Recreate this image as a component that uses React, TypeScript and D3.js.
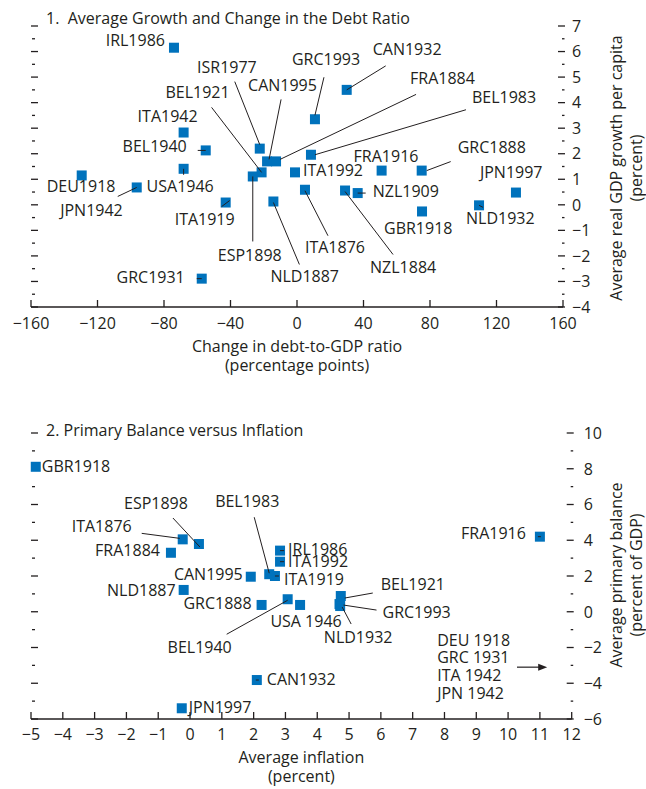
import React from "react"
import * as d3 from "d3"

// Panel 1: change in debt ratio (pp) vs average real GDP growth per capita (%)
const growthCases = [
  "IRL1986", "ISR1977", "GRC1993", "CAN1995", "FRA1884", "BEL1921", "ITA1942",
  "BEL1940", "USA1946", "DEU1918", "JPN1942", "ITA1919", "ESP1898", "GRC1931",
  "NLD1887", "ITA1876", "NZL1884", "NZL1909", "GBR1918", "NLD1932", "ITA1992",
  "FRA1916", "GRC1888", "JPN1997", "CAN1932", "BEL1983",
]
const debtChange = [
  -74, -22.4, 10.8, -18, -12.6, -21.3, -68.2, -54.9, -68.2, -129.5, -96.4, -42.9,
  -26.6, -57.3, -14.2, 4.8, 28.9, 36.5, 75.2, 109.5, -1.2, 50.9, 75, 131.7, 29.9, 8.4,
]
const growthRate = [
  6.15, 2.2, 3.35, 1.7, 1.7, 1.27, 2.83, 2.13, 1.41, 1.15, 0.68, 0.09, 1.11, -2.89,
  0.13, 0.59, 0.56, 0.46, -0.26, -0.02, 1.27, 1.34, 1.34, 0.48, 4.5, 1.96,
]

// Panel 2: average inflation (%) vs average primary balance (% of GDP)
const balanceCases = [
  "GBR1918", "ITA1876", "ESP1898", "FRA1884", "BEL1983", "IRL1986", "ITA1992",
  "ITA1919", "CAN1995", "NLD1887", "GRC1888", "BEL1940", "USA 1946", "BEL1921",
  "GRC1993", "NLD1932", "CAN1932", "JPN1997", "FRA1916",
]
const inflation = [
  -4.85, -0.23, 0.28, -0.6, 2.49, 2.83, 2.83, 2.67, 1.91, -0.2, 2.25, 3.07, 3.46,
  4.74, 4.7, 4.72, 2.1, -0.26, 11.0,
]
const primaryBalance = [
  8.11, 4.05, 3.79, 3.3, 2.1, 3.42, 2.8, 2.0, 1.96, 1.22, 0.38, 0.7, 0.38, 0.88,
  0.43, 0.32, -3.82, -5.4, 4.2,
]
// hyperinflation cases that fall off the chart
const offChartCases = ["DEU 1918", "GRC 1931", "ITA 1942", "JPN 1942"]

const debtTicks = d3.range(-160, 161, 40)
const growthTicks = d3.range(-4, 7.1, 1)
const inflationTicks = d3.range(-5, 12.1, 1)
const balanceTicks = d3.range(-6, 10.1, 2)

type Lab = { id: string; dx: number; dy: number; anchor?: string; line?: number[] }

// label placement, pixel offsets from the marker (leader: x1,y1,x2,y2)
const growthLabels: Lab[] = [
  { id: "IRL1986", dx: -9, dy: -2, anchor: "end" },
  { id: "ISR1977", dx: -3, dy: -76, anchor: "end", line: [-25, -67, 0, -4] },
  { id: "GRC1993", dx: -23, dy: -54, line: [9, -42, 0, -4] },
  { id: "CAN1995", dx: -19, dy: -70, line: [14, -62, 2, -2] },
  { id: "FRA1884", dx: 134, dy: -77, line: [140, -67, 4, -2] },
  { id: "BEL1921", dx: -32, dy: -74, anchor: "end", line: [-50, -65, 0, 0] },
  { id: "ITA1942", dx: -16, dy: -11, anchor: "middle" },
  { id: "BEL1940", dx: -19, dy: 2, anchor: "end", line: [-8, 0, 0, 0] },
  { id: "USA1946", dx: -37, dy: 23, line: [0, 0, 0, 6] },
  { id: "DEU1918", dx: -35, dy: 17 },
  { id: "JPN1942", dx: -14, dy: 29, anchor: "end", line: [-19, 9, 0, 0] },
  { id: "ITA1919", dx: 9, dy: 22, anchor: "end", line: [-4, 4, 4, -2] },
  { id: "ESP1898", dx: -3, dy: 85, anchor: "middle", line: [0, 65, 0, 0] },
  { id: "GRC1931", dx: -17, dy: 4, anchor: "end", line: [-5, 0, 0, 0] },
  { id: "NLD1887", dx: -3, dy: 81, line: [26, 63, 0, 1] },
  { id: "ITA1876", dx: 0, dy: 63, line: [23, 46, 0, 1] },
  { id: "NZL1884", dx: 25, dy: 82, line: [48, 64, 0, 1] },
  { id: "NZL1909", dx: 15, dy: 4, line: [0, 0, 8, 0] },
  { id: "GBR1918", dx: -38, dy: 23 },
  { id: "NLD1932", dx: -13, dy: 19, line: [0, 0, 4, 2] },
  { id: "ITA1992", dx: 8, dy: 4 },
  { id: "FRA1916", dx: -28, dy: -9 },
  { id: "GRC1888", dx: 36, dy: -18, line: [29, -9, 5, 0] },
  { id: "JPN1997", dx: -36, dy: -15 },
  { id: "CAN1932", dx: 26, dy: -35, line: [39, -24, 0, 0] },
  { id: "BEL1983", dx: 161, dy: -52, line: [155, -45, 4, 0] },
]

const balanceLabels: Lab[] = [
  { id: "GBR1918", dx: 6, dy: 5 },
  { id: "ITA1876", dx: -51, dy: -7, anchor: "end", line: [-41, -6, -3, -1] },
  { id: "ESP1898", dx: -43, dy: -35, anchor: "middle", line: [-26, -26, 1, 3] },
  { id: "FRA1884", dx: -11, dy: 3, anchor: "end" },
  { id: "BEL1983", dx: -22, dy: -67, anchor: "middle", line: [-15, -57, 0, -1] },
  { id: "IRL1986", dx: 8, dy: 4, line: [0, 0, 4, 0] },
  { id: "ITA1992", dx: 8, dy: 5, line: [0, 0, 4, 0] },
  { id: "ITA1919", dx: 9, dy: 9, line: [0, 0, 4, 0] },
  { id: "CAN1995", dx: -8, dy: 3, anchor: "end" },
  { id: "NLD1887", dx: -8, dy: 6, anchor: "end" },
  { id: "GRC1888", dx: -10, dy: 4, anchor: "end" },
  { id: "BEL1940", dx: -88, dy: 54, anchor: "middle", line: [-61, 35, 0, 1] },
  { id: "USA 1946", dx: 6, dy: 22, anchor: "middle" },
  { id: "BEL1921", dx: 40, dy: -6, line: [32, -3, 4, 2] },
  { id: "GRC1993", dx: 43, dy: 14, line: [37, 6, 4, 1] },
  { id: "NLD1932", dx: 18, dy: 37, anchor: "middle", line: [11, 18, 2, 1] },
  { id: "CAN1932", dx: 10, dy: 5, line: [-1, 0, 2, 0] },
  { id: "JPN1997", dx: 7, dy: 5 },
  { id: "FRA1916", dx: -14, dy: 2, anchor: "end", line: [-2, 0, 1, 0] },
]

const INK = "#231f20"
const BLUE = "#0072bc"
const FONT = "'Open Sans', 'Noto Sans', sans-serif"
const fmt = (v: number) => (v < 0 ? "\u2212" + Math.abs(v) : String(v))

type PanelProps = {
  ids: string[]
  xs: number[]
  ys: number[]
  labels: Lab[]
  x: d3.ScaleLinear<number, number>
  y: d3.ScaleLinear<number, number>
  xTicks: number[]
  yTicks: number[]
  yMinor: number[]
  yLabelGap: number
  title: string
  titleY: number
  xTitle: string[]
  xTitleY: number
  tickLabelY: number
  yTitle: string[]
  yTitleY: number
}

function Panel(p: PanelProps) {
  const [x0, x1] = p.x.range()
  const yBase = p.y.range()[0]
  const byId = new Map(p.ids.map((id, i) => [id, [p.x(p.xs[i]), p.y(p.ys[i])]]))
  return (
    <g>
      <text x={46} y={p.titleY} fontSize={16}>{p.title}</text>
      {/* x axis */}
      <line x1={x0} x2={x1} y1={yBase} y2={yBase} stroke={INK} strokeWidth={1.3} />
      {p.xTicks.map((t) => (
        <g key={t}>
          <line x1={p.x(t)} x2={p.x(t)} y1={yBase} y2={yBase - 7} stroke={INK} strokeWidth={1.3} />
          <text x={p.x(t)} y={yBase + p.tickLabelY} textAnchor="middle" fontSize={16}>{fmt(t)}</text>
        </g>
      ))}
      {/* y ticks: left side without labels, right side with labels */}
      {p.yTicks.map((t) => (
        <g key={"m" + t}>
          <line x1={x0} x2={x0 + 7} y1={p.y(t)} y2={p.y(t)} stroke={INK} strokeWidth={1.3} />
          <line x1={x1 - 5} x2={x1 + 2} y1={p.y(t)} y2={p.y(t)} stroke={INK} strokeWidth={1.3} />
          <text x={x1 + p.yLabelGap} y={p.y(t)} dy="0.36em" fontSize={16}>{fmt(t)}</text>
        </g>
      ))}
      {p.yMinor.map((t) => (
        <g key={"n" + t}>
          <line x1={x0 + 1} x2={x0 + 4} y1={p.y(t)} y2={p.y(t)} stroke={INK} strokeWidth={1.3} />
          <line x1={x1 - 1} x2={x1 + 1.5} y1={p.y(t)} y2={p.y(t)} stroke={INK} strokeWidth={1.3} />
        </g>
      ))}
      {p.xTitle.map((s, i) => (
        <text key={s} x={p.x(0) + (x1 - x0) * 0} y={p.xTitleY + i * 18.5} textAnchor="middle" fontSize={16}
          transform={`translate(${(x0 + x1) / 2 - p.x(0)},0)`}>{s}</text>
      ))}
      {p.yTitle.map((s, i) => (
        <text key={s} transform={`translate(${622 + i * 20},${p.yTitleY}) rotate(-90)`} textAnchor="middle" fontSize={16}>{s}</text>
      ))}
      {/* markers */}
      {p.ids.map((id, i) => (
        <rect key={id} x={p.x(p.xs[i]) - 5} y={p.y(p.ys[i]) - 5} width={10} height={10} fill={BLUE} />
      ))}
      {p.labels.map((l) => {
        const pt = byId.get(l.id)
        if (!pt) return null
        const [cx, cy] = pt
        return (
          <g key={"l" + l.id}>
            {l.line && (
              <line x1={cx + l.line[0]} y1={cy + l.line[1]} x2={cx + l.line[2]} y2={cy + l.line[3]}
                stroke={INK} strokeWidth={1} />
            )}
            <text x={cx + l.dx} y={cy + l.dy} textAnchor={l.anchor || "start"} fontSize={16}>{l.id}</text>
          </g>
        )
      })}
    </g>
  )
}

export default function App() {
  const xTop = d3.scaleLinear().domain([-160, 160]).range([31, 563])
  const yTop = d3.scaleLinear().domain([-4, 7]).range([307, 26])
  const xBot = d3.scaleLinear().domain([-5, 12]).range([31, 571.7])
  const yBot = d3.scaleLinear().domain([-6, 10]).range([719, 433])

  const noteX = xBot(7.77)
  const noteY = yBot(-1.9)
  const arrowY = yBot(-3.1)
  const ax0 = xBot(10.28)
  const ax1 = xBot(11.23)

  return (
    <svg width={646} height={789} style={{ position: "absolute", left: 0, top: 0 }}
      fontFamily={FONT} fill={INK}>
      <rect width={646} height={789} fill="#fff" />
      <Panel ids={growthCases} xs={debtChange} ys={growthRate} labels={growthLabels}
        x={xTop} y={yTop} xTicks={debtTicks} yTicks={growthTicks}
        yMinor={growthTicks.slice(0, -1).map((t) => t + 0.5)} yLabelGap={9}
        title={"1.\u00a0 Average Growth and Change in the Debt Ratio"} titleY={24}
        xTitle={["Change in debt-to-GDP ratio", "(percentage points)"]} xTitleY={352}
        tickLabelY={22} yTitle={["Average real GDP growth per capita", "(percent)"]} yTitleY={168} />
      <Panel ids={balanceCases} xs={inflation} ys={primaryBalance} labels={balanceLabels}
        x={xBot} y={yBot} xTicks={inflationTicks} yTicks={balanceTicks}
        yMinor={balanceTicks.slice(0, -1).map((t) => t + 1)} yLabelGap={12}
        title="2. Primary Balance versus Inflation" titleY={436}
        xTitle={["Average inflation", "(percent)"]} xTitleY={763}
        tickLabelY={21} yTitle={["Average primary balance", "(percent of GDP)"]} yTitleY={575} />
      {offChartCases.map((s, i) => (
        <text key={s} x={noteX} y={noteY + i * 17.7} fontSize={16}>{s}</text>
      ))}
      <line x1={ax0} x2={ax1 - 7} y1={arrowY} y2={arrowY} stroke={INK} strokeWidth={1.2} />
      <path d={`M${ax1},${arrowY} L${ax1 - 9},${arrowY - 3.5} L${ax1 - 9},${arrowY + 3.5} Z`} fill={INK} />
    </svg>
  )
}
